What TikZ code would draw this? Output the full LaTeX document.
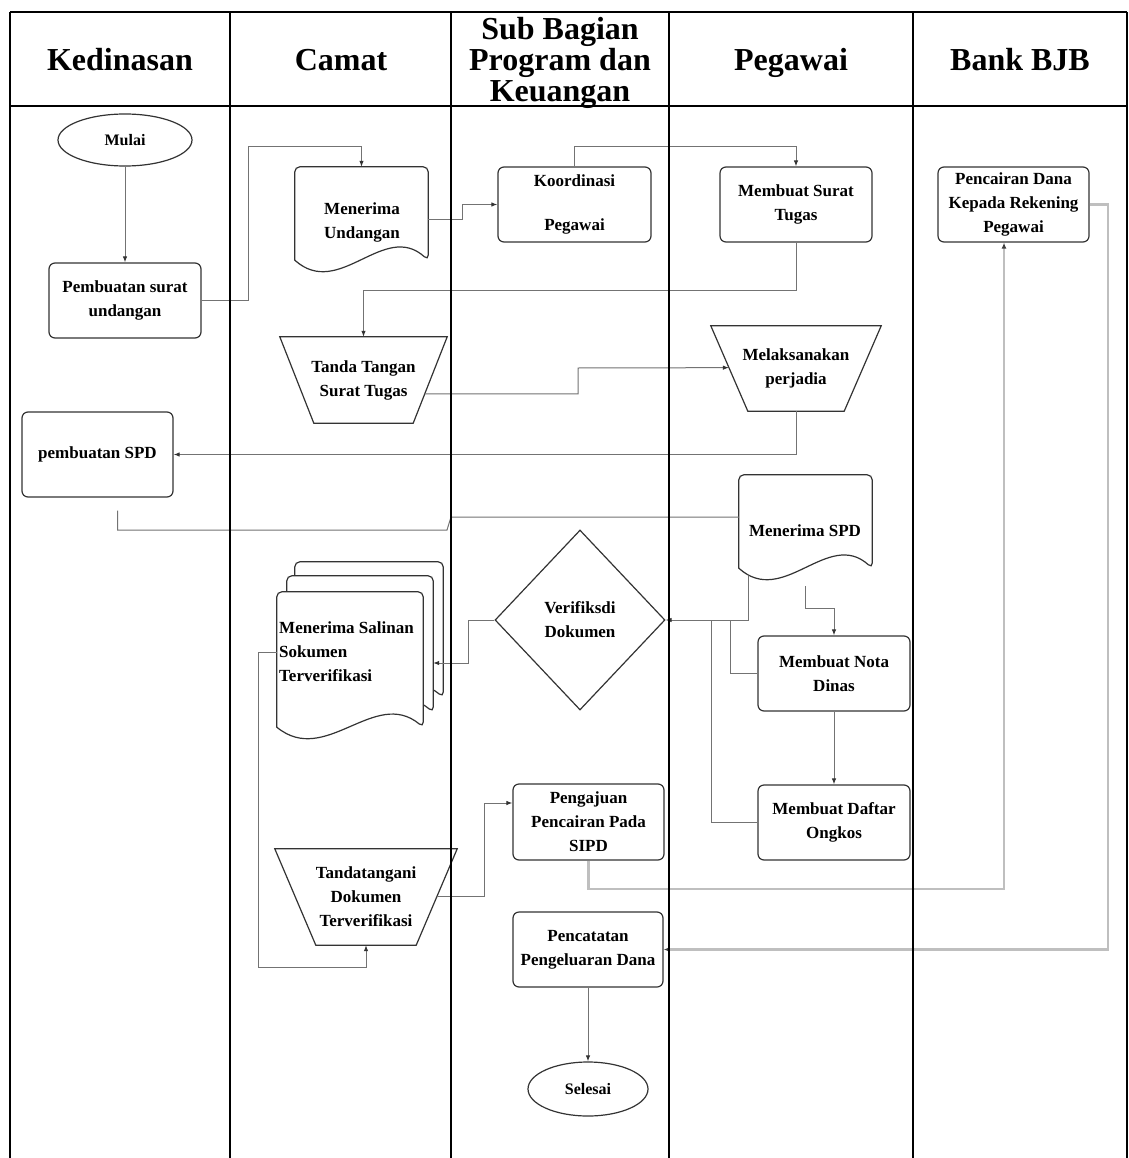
\documentclass[tikz,border=0pt]{standalone}
\usepackage{fontspec}
\setmainfont{Liberation Serif}
\usetikzlibrary{arrows.meta,shapes.geometric,calc}
\newcommand\myboxfont{\bfseries\fontsize{17}{24}\selectfont}
\newcommand\myhdrfont{\bfseries\fontsize{32}{31}\selectfont}
\newcommand\docpath[2]{%
  \filldraw[shp] (#1.south west) [rounded corners=5pt] -- (#1.north west) -- (#1.north east) -- (#1.south east) [sharp corners]
   .. controls +(-#2/3,-40) and +(#2/3,40) .. (#1.south west) -- cycle;}
\newcommand\trappath[2]{%
  \draw[shp,fill=none] (#1.north west) -- (#1.north east) -- ([xshift=-#2pt]#1.south east) -- ([xshift=#2pt]#1.south west) -- cycle;}
\begin{document}
\begin{tikzpicture}[x=1pt,y=-1pt,
  lane/.style={line width=2pt,draw=black},
  shp/.style={draw=black!80,line width=1.2pt,fill=white},
  box/.style={shp,rounded corners=6pt,minimum width=152pt,minimum height=75pt,align=center,inner sep=1pt,font=\myboxfont},
  frame/.style={minimum width=#1,inner sep=0pt,draw=none},
  txt/.style={align=center,inner sep=0pt,font=\myboxfont},
  hdr/.style={align=center,inner sep=0pt,font=\myhdrfont},
  conn/.style={draw=black!55,line width=1pt,-{Latex[length=6pt,width=4.5pt,color=black!80]}},
  plain/.style={draw=black!55,line width=1pt},
  lconn/.style={draw=black!25,line width=2.2pt,-{Latex[length=6pt,width=5pt,color=black!75]}}
]
\useasboundingbox (0,0) rectangle (1128,1158);
\fill[white] (0,0) rectangle (1128,1158);

% headers
\node[hdr,anchor=base] (h1) at (120,71) {Kedinasan};
\node[hdr,anchor=base] (h2) at (341,71) {Camat};
\node[hdr] (h3) at (560,63) {Sub Bagian\\Program dan\\Keuangan};
\node[hdr,anchor=base] (h4) at (791,71) {Pegawai};
\node[hdr,anchor=base] (h5) at (1020,71) {Bank BJB};

% nodes
\node[shp,ellipse,minimum width=134pt,minimum height=52pt,inner sep=0pt,font=\bfseries\fontsize{16}{20}\selectfont] (mulai) at (125,140) {Mulai};
\node[box] (pu) at (125,300.5) {Pembuatan surat\\undangan};

\node[frame=133pt,minimum height=93pt] (mu) at (361.5,213.5) {};
\docpath{mu}{133}
\node[txt] (mut) at (362,222) {Menerima\\Undangan};

\node[box,minimum width=153pt] (ko) at (574.5,204.5) {Koordinasi\\[20pt]Pegawai};
\node[box] (st) at (796,204.5) {Membuat Surat\\Tugas};
\node[box,minimum width=151pt] (pc) at (1013.5,204.5) {Pencairan Dana\\Kepada Rekening\\Pegawai};

\node[frame=167pt,minimum height=86pt,font=\myboxfont,align=center] (tt) at (363.5,380) {Tanda Tangan\\Surat Tugas};
\trappath{tt}{34}
\node[frame=170pt,minimum height=85pt,font=\myboxfont,align=center] (ml) at (796,368.5) {Melaksanakan\\perjadia};
\trappath{ml}{37}

\node[box,minimum width=151pt,minimum height=85pt] (spd) at (97.5,454.5) {pembuatan SPD};

\node[frame=133pt,minimum height=93pt] (sp) at (805.5,521.5) {};
\docpath{sp}{133}
\node[txt] (spt) at (805,531) {Menerima SPD};

\node[frame=148pt,minimum height=135pt] (ms3) at (369,629.5) {};
\docpath{ms3}{148}
\node[frame=146pt,minimum height=136pt] (ms2) at (360,644) {};
\docpath{ms2}{146}
\node[frame=146pt,minimum height=135pt] (ms) at (350,659.5) {};
\docpath{ms}{146}
\node[txt,align=left,anchor=west] (mst) at (279,652) {Menerima Salinan\\Sokumen\\Terverifikasi};

\node[shp,diamond,minimum width=170pt,minimum height=180pt,inner sep=0pt,align=center,font=\myboxfont] (vd) at (580,620) {Verifiksdi\\Dokumen};

\node[box] (nd) at (834,673.5) {Membuat Nota\\Dinas};
\node[box] (do) at (834,822.5) {Membuat Daftar\\Ongkos};
\node[box,minimum width=151pt,minimum height=76pt] (pj) at (588.5,822) {Pengajuan\\Pencairan Pada\\SIPD};

\node[frame=182pt,minimum height=96pt,font=\myboxfont,align=center] (td) at (366,897) {Tandatangani\\Dokumen\\Terverifikasi};
\trappath{td}{41}

\node[box,minimum width=150pt] (pe) at (588,949.5) {Pencatatan\\Pengeluaran Dana};
\node[shp,ellipse,minimum width=120pt,minimum height=54pt,inner sep=0pt,font=\bfseries\fontsize{16}{20}\selectfont] (sel) at (588,1089) {Selesai};

% connectors
\draw[conn] (mulai.south) -- (pu.north);
\draw[conn] (pu.east) -| (248,147) -| (mu.north);
\draw[conn] ([yshift=-6pt]mu.east) -| (462,204.5) -- (ko.west);
\draw[conn] (ko.north) -- ++(0,-20) -| (st.north);
\draw[conn] (st.south) -- ++(0,48) -| (tt.north);
\draw[conn] ($(tt.north east)!0.66!([xshift=-34pt]tt.south east)$) -| (578,368) -- ($(ml.north west)!0.49!([xshift=37pt]ml.south west)$);
\draw[conn] (ml.south) |- (spd.east);
\draw[plain] ([xshift=20pt,yshift=-13pt]spd.south) |- (447,530) -- (451,517) -- (sp.west |- 0,517);
\draw[conn] ([xshift=-57pt,yshift=-8pt]sp.south) |- (vd.east);
\draw[conn] ([yshift=-18pt]sp.south) -- ++(0,22) -| (nd.north);
\draw[plain] (nd.west) -| (730,620);
\draw[plain] (do.west) -| (711,620);
\draw[conn] (nd.south) -- (do.north);
\draw[conn] (vd.west) -| (468,663) -- (ms2.east |- 0,663);
\draw[conn] (ms.west |- 0,652) -| (258,967) -| (td.south);
\draw[conn] ($(td.north east)!0.49!([xshift=-41pt]td.south east)$) -| (484,803) -- (pj.west |- 0,803);
\draw[lconn] (pj.south) |- (1004,889) -- ([xshift=-9.5pt]pc.south);
\draw[lconn] (pc.east) -| (1108,949.5) -- (pe.east);
\draw[conn] (pe.south) -- (sel.north);

% swimlanes
\draw[lane] (10,12) -- (1127,12);
\draw[lane] (10,106) -- (1127,106);
\foreach \x/\n in {10/a,230/b,451/c,669/d,913/e,1127/f}
  \draw[lane] (\x,12) -- (\x,1158);
\end{tikzpicture}
\end{document}
